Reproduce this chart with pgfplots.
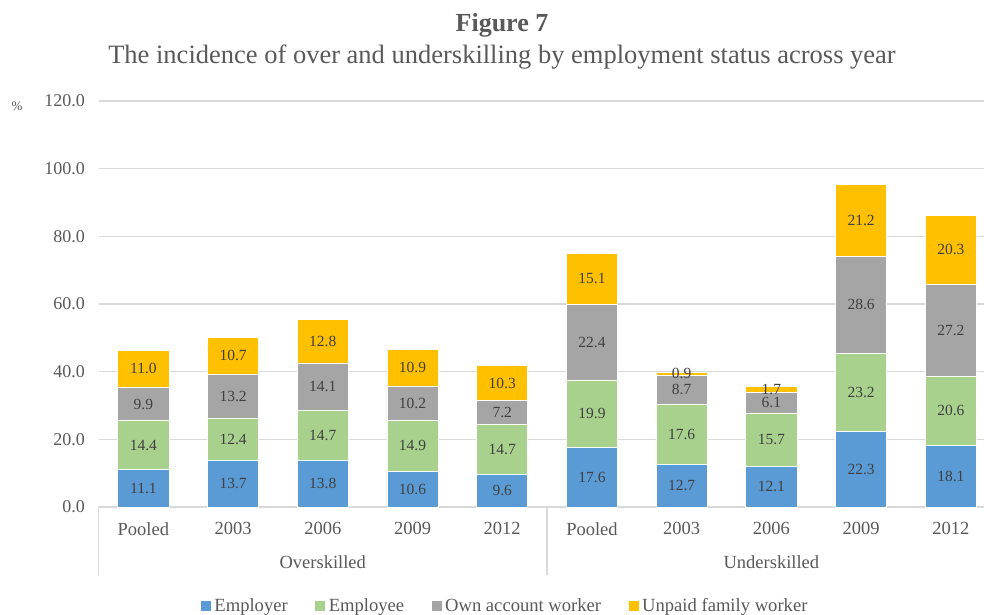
\documentclass[border=0pt]{standalone}
\usepackage{pgfplots}
\pgfplotsset{compat=1.18}
\usepackage{pgfplotstable}
\usepackage{fontspec}
\setmainfont{Liberation Serif}

\definecolor{cEmployer}{HTML}{5B9BD5}
\definecolor{cEmployee}{HTML}{A9D18E}
\definecolor{cOwn}{HTML}{A5A5A5}
\definecolor{cUnpaid}{HTML}{FFC000}
\definecolor{txt}{HTML}{595959}
\definecolor{lbl}{HTML}{404040}
\definecolor{gridc}{HTML}{D9D9D9}

% Incidence (%) by employment status; 0-4 overskilled, 5-9 underskilled
\pgfplotstableread{
x employer employee own unpaid
0 11.1 14.4 9.9 11.0
1 13.7 12.4 13.2 10.7
2 13.8 14.7 14.1 12.8
3 10.6 14.9 10.2 10.9
4 9.6 14.7 7.2 10.3
5 17.6 19.9 22.4 15.1
6 12.7 17.6 8.7 0.9
7 12.1 15.7 6.1 1.7
8 22.3 23.2 28.6 21.2
9 18.1 20.6 27.2 20.3
}\skilldata

% stacked segments, each labelled with its own value in its middle
\pgfplotsset{
  seg/.style={
    fill=#1, draw=white, line width=0.7pt,
    point meta=explicit,
    nodes near coords,
    nodes near coords align=center,
    nodes near coords style={anchor=center, inner sep=0pt,
      font=\fontsize{15.5}{17}\selectfont, text=lbl,
      /pgf/number format/.cd, fixed, fixed zerofill, precision=1,
      assume math mode=true},
  },
}

\begin{document}
\begin{tikzpicture}
\path (0pt,0pt) rectangle (984pt,614pt);

\node[anchor=base, text=txt, font=\fontsize{26}{30}\selectfont\bfseries] at (502pt,582pt) {Figure 7};
\node[anchor=base, text=txt, font=\fontsize{26.5}{30}\selectfont] at (502pt,550pt)
  {The incidence of over and underskilling by employment status across year};
\node[text=txt, font=\fontsize{13}{15}\selectfont] at (17pt,508pt) {\%};

\begin{axis}[
  at={(98.5pt,107pt)}, anchor=south west,
  scale only axis, width=885.5pt, height=406pt,
  xmin=-0.5, xmax=9.37, ymin=0, ymax=120,
  ybar stacked, bar width=0.57,
  axis line style={draw=none},
  major tick length=0pt,
  ytick={0,20,...,120},
  ymajorgrids, grid style={gridc, line width=1.3pt},
  yticklabel style={text=txt, font=\fontsize{18}{20}\selectfont, xshift=-10pt,
    /pgf/number format/.cd, fixed, fixed zerofill, precision=1, assume math mode=true},
  xtick={0,...,9},
  xticklabels={Pooled,2003,2006,2009,2012,Pooled,2003,2006,2009,2012},
  xticklabel style={text=txt, font=\fontsize{18.5}{20}\selectfont, yshift=-12pt},
  clip=false,
  legend columns=4,
  legend style={at={(0.459,-0.2435)}, anchor=center, draw=none, fill=none,
    font=\fontsize{18.6}{20}\selectfont, text=txt,
    nodes={inner xsep=1.5pt},
    /tikz/every odd column/.append style={column sep=2pt},
    /tikz/every even column/.append style={column sep=26pt}},
  legend image code/.code={\fill[#1, draw=none] (0pt,-5pt) rectangle (10pt,5pt);},
]
\addplot[seg=cEmployer] table[x=x, y=employer, meta=employer] {\skilldata};
\addplot[seg=cEmployee] table[x=x, y=employee, meta=employee] {\skilldata};
\addplot[seg=cOwn] table[x=x, y=own, meta=own] {\skilldata};
\addplot[seg=cUnpaid] table[x=x, y=unpaid, meta=unpaid] {\skilldata};
\legend{Employer, Employee, Own account worker, Unpaid family worker}

% category group separators and names
\draw[gridc, line width=1.3pt] (axis cs:-0.5,0) -- ++(0pt,-68pt);
\draw[gridc, line width=1.3pt] (axis cs:4.5,0) -- ++(0pt,-68pt);
\draw[gridc, line width=1.3pt] (axis cs:-0.5,0) -- (axis cs:9.37,0);
\node[anchor=base, text=txt, font=\fontsize{18.5}{20}\selectfont] at ([yshift=-61pt]axis cs:2,0) {Overskilled};
\node[anchor=base, text=txt, font=\fontsize{18.5}{20}\selectfont] at ([yshift=-61pt]axis cs:7,0) {Underskilled};
\end{axis}
\pgfresetboundingbox
\useasboundingbox (0pt,0pt) rectangle (984pt,614pt);
\end{tikzpicture}
\end{document}
